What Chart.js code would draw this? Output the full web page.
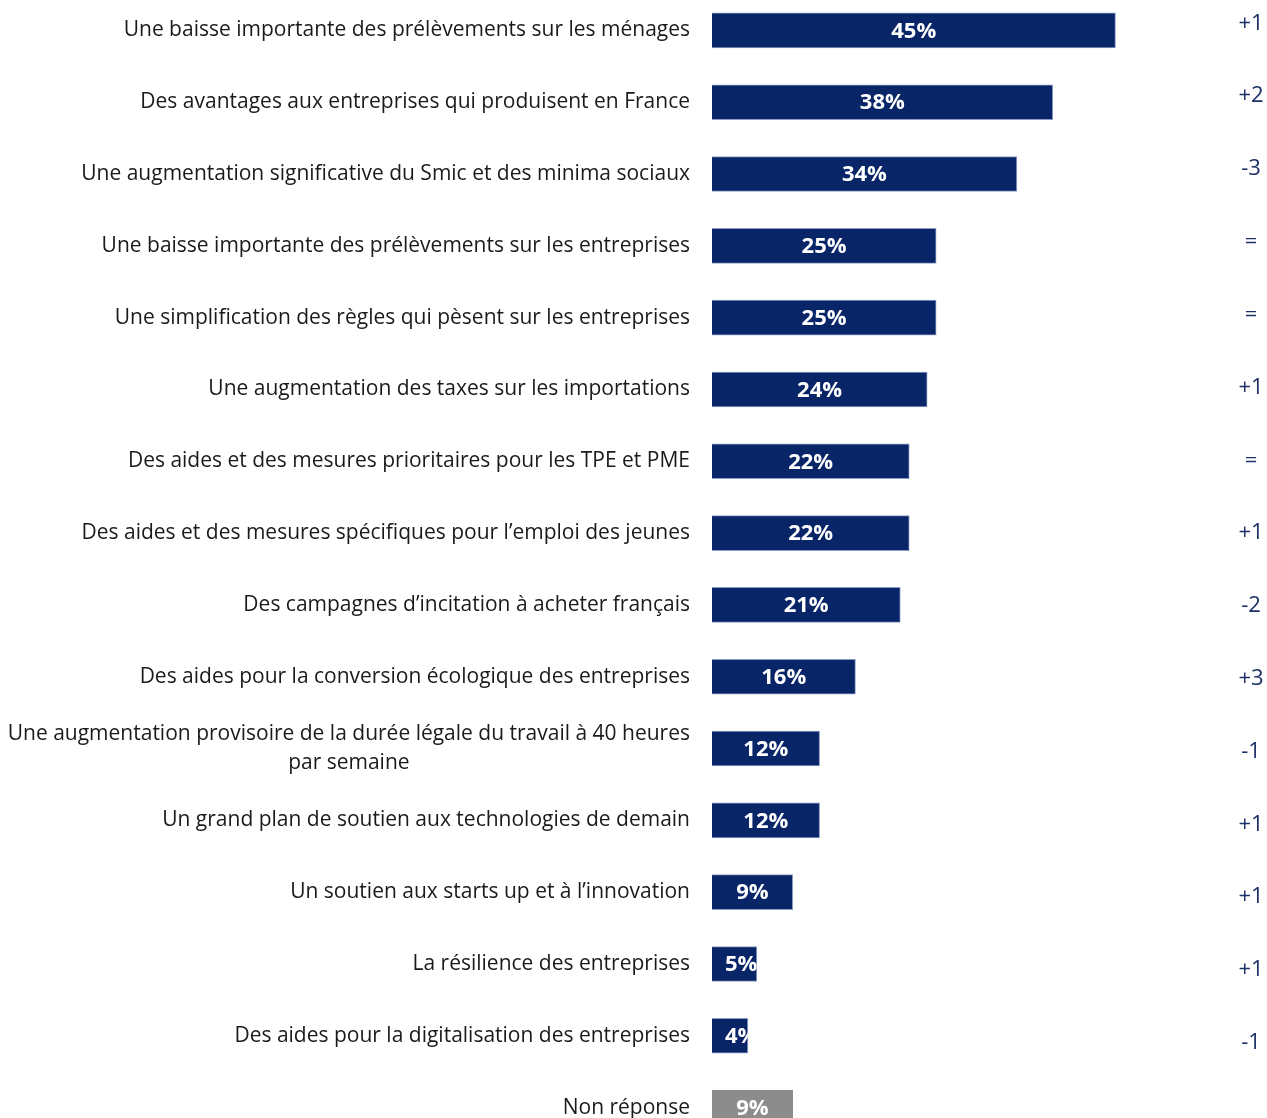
<!DOCTYPE html>
<html lang="fr">
<head>
<meta charset="UTF-8">
<title>Mesures prioritaires</title>
<script src="https://cdn.jsdelivr.net/npm/chart.js"></script>
<style>
    html, body { margin: 0; padding: 0; background: #fff; overflow: hidden; }
    body { width: 1267px; height: 1118px; position: relative; }
    .chart-box { position: absolute; left: 0; top: -42px; width: 1267px; height: 1222px; }
</style>
</head>
<body>
<div class="chart-box"><canvas id="barChart"></canvas></div>
<script>
// Data
const categories = [
    "Une baisse importante des prélèvements sur les ménages",
    "Des avantages aux entreprises qui produisent en France",
    "Une augmentation significative du Smic et des minima sociaux",
    "Une baisse importante des prélèvements sur les entreprises",
    "Une simplification des règles qui pèsent sur les entreprises",
    "Une augmentation des taxes sur les importations",
    "Des aides et des mesures prioritaires pour les TPE et PME",
    "Des aides et des mesures spécifiques pour l’emploi des jeunes",
    "Des campagnes d’incitation à acheter français",
    "Des aides pour la conversion écologique des entreprises",
    ["Une augmentation provisoire de la durée légale du travail à 40 heures", "par semaine"],
    "Un grand plan de soutien aux technologies de demain",
    "Un soutien aux starts up et à l’innovation",
    "La résilience des entreprises",
    "Des aides pour la digitalisation des entreprises",
    "Non réponse"
];
const values = [45, 38, 34, 25, 25, 24, 22, 22, 21, 16, 12, 12, 9, 5, 4, 9];
const changes = ["+1", "+2", "-3", "=", "=", "+1", "=", "+1", "-2", "+3", "-1", "+1", "+1", "+1", "-1", ""];

const FONT = "'Open Sans', Lato, sans-serif";
const navy = "#082567";
const grey = "#8c8c8c";
const barColors = values.map((v, i) => i === values.length - 1 ? grey : navy);
const borderColors = values.map((v, i) => i === values.length - 1 ? grey : "#8d9cc4");

// category labels (lines centred on each other), value labels, evolution column
const labelPlugin = {
    id: "labelPlugin",
    afterDatasetsDraw(chart) {
        const ctx = chart.ctx;
        const meta = chart.getDatasetMeta(0);
        const area = chart.chartArea;
        const yScale = chart.scales.y;

        categories.forEach((label, i) => {
            const lines = Array.isArray(label) ? label : [label];
            const y = yScale.getPixelForValue(i);
            ctx.save();
            ctx.font = "21px " + FONT;
            ctx.fillStyle = "#1a1a1a";
            ctx.textBaseline = "middle";
            ctx.textAlign = "center";
            const widths = lines.map(l => ctx.measureText(l).width);
            const maxW = Math.max(...widths);
            const right = area.left - 22;
            const lh = 29;
            lines.forEach((l, k) => {
                ctx.fillText(l, right - maxW / 2, y + (k - (lines.length - 1) / 2) * lh);
            });
            ctx.restore();
        });

        meta.data.forEach((bar, i) => {
            const left = bar.base, right = bar.x;
            const text = values[i] + "%";
            ctx.save();
            ctx.font = "bold 22px " + FONT;
            const w = ctx.measureText(text).width;
            let cx = (left + right) / 2;
            if (cx - w / 2 < left + 13) cx = left + 13 + w / 2;
            ctx.beginPath();
            ctx.rect(left, bar.y - bar.height / 2, right - left, bar.height);
            ctx.clip();
            ctx.fillStyle = "#ffffff";
            ctx.textAlign = "center";
            ctx.textBaseline = "middle";
            ctx.fillText(text, cx, bar.y + 1);
            ctx.restore();

            if (changes[i]) {
                ctx.save();
                ctx.font = "22px " + FONT;
                ctx.fillStyle = "#1c2f66";
                ctx.textAlign = "center";
                ctx.textBaseline = "middle";
                ctx.fillText(changes[i], area.right - 16, bar.y - 7 + i * 1.0);
                ctx.restore();
            }
        });
    }
};

new Chart(document.getElementById("barChart"), {
    type: "bar",
    data: {
        labels: categories,
        datasets: [{
            data: values,
            backgroundColor: barColors,
            borderColor: borderColors,
            borderWidth: { top: 1, bottom: 1, left: 0, right: 1 },
            borderSkipped: false,
            barThickness: 35
        }]
    },
    options: {
        indexAxis: "y",
        responsive: true,
        maintainAspectRatio: false,
        animation: false,
        layout: { padding: 0 },
        plugins: {
            legend: { display: false },
            tooltip: { enabled: false }
        },
        scales: {
            x: {
                display: false,
                min: 0,
                max: 61.9,
                grid: { display: false }
            },
            y: {
                grid: { display: false, drawTicks: false },
                border: { display: false },
                ticks: {
                    color: "rgba(0,0,0,0)",
                    padding: 22,
                    autoSkip: false,
                    font: { family: FONT, size: 20, lineHeight: 1.45 }
                },
                afterFit(axis) { axis.width = 712; }
            }
        }
    },
    plugins: [labelPlugin]
});
</script>
</body>
</html>
